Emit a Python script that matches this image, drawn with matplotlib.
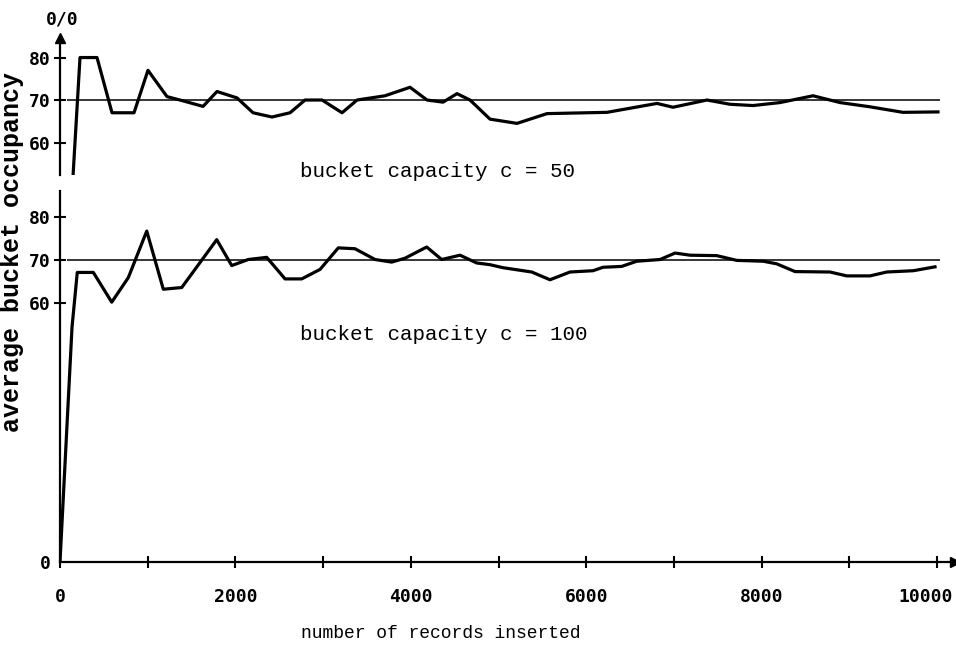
import matplotlib
matplotlib.use("Agg")
import matplotlib.pyplot as plt
from matplotlib.transforms import ScaledTranslation

# c = 50 run (top panel)
x_c50 = [0, 228, 422, 593, 844, 1003, 1220, 1368, 1631, 1790, 2018, 2201, 2417,
         2623, 2794, 2988, 3216, 3387, 3706, 3991, 4185, 4367, 4527, 4675, 4903,
         5211, 5553, 6237, 6807, 6990, 7377, 7640, 7902, 8210, 8586, 8894, 9236,
         9612, 10011]
y_c50 = [0, 80, 80, 67, 67, 77, 70.8, 70, 68.5, 72, 70.5, 67, 66,
         67, 70, 70, 67, 70, 71, 73, 70, 69.5, 71.5, 70, 65.5,
         64.5, 66.8, 67.1, 69.2, 68.3, 70, 69, 68.7, 69.4, 71, 69.4, 68.4,
         67.1, 67.2]

# c = 100 run (bottom panel)
x_c100 = [0, 137, 197, 380, 590, 779, 989, 1178, 1388, 1787, 1958, 2147, 2357,
          2566, 2756, 2965, 3173, 3364, 3592, 3782, 3934, 4181, 4352, 4561, 4751,
          4903, 5051, 5379, 5587, 5815, 6078, 6192, 6405, 6576, 6842, 7013, 7184,
          7488, 7716, 8019, 8172, 8381, 8780, 8970, 9236, 9427, 9730, 9977]
y_c100 = [0, 54.5, 67.2, 67.2, 60.3, 66, 76.8, 63.3, 63.7, 74.8, 68.8, 70.2, 70.7,
          65.7, 65.7, 67.9, 72.9, 72.7, 70.2, 69.6, 70.5, 73.1, 70.2, 71.2, 69.4,
          69, 68.3, 67.3, 65.5, 67.3, 67.6, 68.4, 68.6, 69.8, 70.2, 71.7, 71.2,
          71.1, 70, 69.8, 69.2, 67.4, 67.3, 66.4, 66.4, 67.3, 67.6, 68.5]

ref_level = 70
ref_span = [80, 10030]

x_ticks = list(range(0, 10001, 1000))
x_ticklabels = ["0", "", "2000", "", "4000", "", "6000", "", "8000", "", "10000"]
y_ticks_top = [60, 70, 80]
y_ticks_bot = [0, 60, 70, 80]

W, H = 956, 645
tick_font = dict(family="DejaVu Sans Mono", weight="bold", size=13)
mono = "Liberation Mono"

fig = plt.figure(figsize=(W / 100, H / 100), dpi=100)

ax_top = fig.add_axes([60 / W, (H - 175) / H, 895 / W, 137 / H])
ax_bot = fig.add_axes([60 / W, (H - 562) / H, 895 / W, 371 / H])

for ax in (ax_top, ax_bot):
    ax.set_xlim(0, 10205)
    for side in ("top", "right"):
        ax.spines[side].set_visible(False)
    ax.spines["left"].set_linewidth(1.6)
    ax.spines["bottom"].set_linewidth(1.6)
    ax.tick_params(direction="inout", length=8, width=1.5, pad=3)
    ax.hlines(ref_level, ref_span[0], ref_span[1], color="black", lw=1.1)

ax_top.set_ylim(52.35, 84.6)
ax_bot.set_ylim(0, 86.1)

ax_top.spines["bottom"].set_visible(False)
ax_top.tick_params(axis="x", bottom=False, labelbottom=False)

ax_top.plot(x_c50, y_c50, color="black", lw=2.3)
ax_bot.plot(x_c100, y_c100, color="black", lw=2.3)

ax_top.set_yticks(y_ticks_top)
ax_top.set_yticklabels([str(v) for v in y_ticks_top], fontdict=tick_font)
ax_bot.set_yticks(y_ticks_bot)
ax_bot.set_yticklabels([str(v) for v in y_ticks_bot], fontdict=tick_font)
ax_bot.yaxis.get_major_ticks()[0].tick1line.set_visible(False)
ax_bot.set_xticks(x_ticks)
ax_bot.set_xticklabels(x_ticklabels, fontdict=tick_font)
ax_bot.tick_params(axis="x", pad=15)

# last label sits against the right edge as in the scan
last = ax_bot.get_xticklabels()[-1]
last.set_horizontalalignment("right")
last.set_transform(last.get_transform() + ScaledTranslation(0.16, 0, fig.dpi_scale_trans))

# arrow heads on the axes
ax_top.plot(0, 1, marker="^", color="black", ms=7,
            transform=ax_top.get_xaxis_transform(), clip_on=False)
ax_bot.plot(1, 0, marker=">", color="black", ms=7,
            transform=ax_bot.get_yaxis_transform(), clip_on=False)

fig.text(62 / W, 1 - 20 / H, "0/0", ha="center", va="center", **tick_font)

fig.text(438 / W, 1 - 172 / H, "bucket capacity c = 50", ha="center", va="center",
         family=mono, size=15)
fig.text(444 / W, 1 - 335 / H, "bucket capacity c = 100", ha="center", va="center",
         family=mono, size=15)
fig.text(441 / W, 1 - 633 / H, "number of records inserted", ha="center", va="center",
         family=mono, size=13)
fig.text(12 / W, 1 - 252 / H, "average bucket occupancy", ha="center", va="center",
         rotation=90, family=mono, weight="bold", size=18)

fig.savefig("out.png", dpi=100)
